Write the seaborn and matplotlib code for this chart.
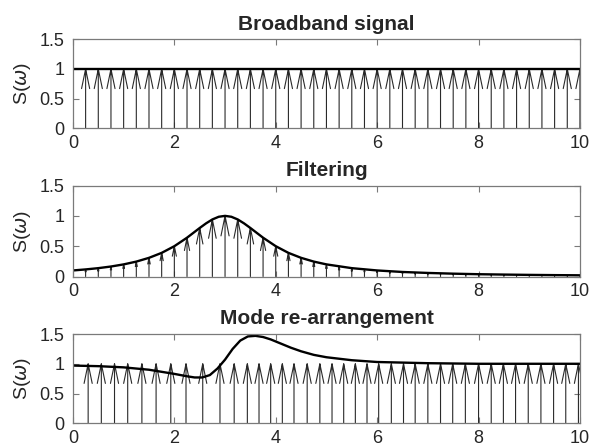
import numpy as np
import pandas as pd
import matplotlib
matplotlib.use("Agg")
import matplotlib.pyplot as plt
import seaborn as sns

# panel 1: flat broadband spectrum, arrows every 0.25
omega1 = [0.25 * k for k in range(1, 41)]
curve1_x = [0, 10]
curve1_y = [1, 1]

# panel 2: filtered spectrum, arrow heights at the same 0.25 grid
amp2 = [0.117, 0.138, 0.165, 0.20, 0.246, 0.308, 0.39, 0.50, 0.64,
        0.80, 0.941, 1.00, 0.941, 0.80, 0.64, 0.50, 0.39, 0.308, 0.246,
        0.20, 0.165, 0.138, 0.117, 0.10, 0.086, 0.075, 0.066, 0.059, 0.052,
        0.047, 0.042, 0.038, 0.035, 0.032, 0.029, 0.027, 0.025, 0.023, 0.021,
        0.020]
# filter curve (a little denser around the peak)
curve2_x = [0, 0.25, 0.5, 0.75, 1, 1.25, 1.5, 1.75, 2, 2.25, 2.5, 2.625, 2.75,
            2.875, 3, 3.125, 3.25, 3.375, 3.5, 3.75, 4, 4.25, 4.5, 4.75, 5,
            5.5, 6, 6.5, 7, 7.5, 8, 8.5, 9, 9.5, 10]
curve2_y = [0.10, 0.117, 0.138, 0.165, 0.20, 0.246, 0.308, 0.39, 0.50, 0.64,
            0.80, 0.876, 0.941, 0.985, 1.00, 0.985, 0.941, 0.876, 0.80, 0.64,
            0.50, 0.39, 0.308, 0.246, 0.20, 0.138, 0.10, 0.075, 0.059, 0.047,
            0.038, 0.032, 0.027, 0.023, 0.020]

# panel 3: re-arranged modes (all amplitude 1) and the mode curve
omega3 = [0.30, 0.56, 0.82, 1.08, 1.36, 1.64, 1.93, 2.23, 2.56, 2.90,
          3.18, 3.44, 3.67, 3.90, 4.13, 4.36, 4.62, 4.87, 5.11, 5.34,
          5.57, 5.80, 6.03, 6.28, 6.52, 6.75, 7.00, 7.25, 7.49, 7.74,
          8.00, 8.25, 8.49, 8.73, 8.98, 9.23, 9.48, 9.72, 9.97]
curve3_x = [0, 0.5, 1, 1.5, 2, 2.25, 2.4, 2.55, 2.7, 2.85, 3.0, 3.15, 3.3, 3.45,
            3.6, 3.75, 3.9, 4.1, 4.3, 4.5, 4.75, 5, 5.5, 6, 6.5, 7, 8, 9, 10]
curve3_y = [0.97, 0.96, 0.94, 0.90, 0.83, 0.79, 0.77, 0.77, 0.81, 0.92, 1.07,
            1.25, 1.39, 1.46, 1.47, 1.45, 1.41, 1.34, 1.27, 1.21, 1.15, 1.11,
            1.06, 1.03, 1.02, 1.01, 1.00, 1.00, 1.00]

titles = ["Broadband signal", "Filtering", "Mode re-arrangement"]

sns.set_style("ticks")
plt.rcParams["font.family"] = ["Liberation Sans", "DejaVu Sans"]
plt.rcParams["mathtext.fontset"] = "dejavusans"


def quiver_up(ax, xs, hs):
    # matlab-style quiver arrows from 0 up to h (open heads, size ~ length)
    px, py = [], []
    for x, h in zip(xs, hs):
        px += [x, x, np.nan, x - 0.08 * h, x, x + 0.08 * h, np.nan]
        py += [0, h, np.nan, 0.67 * h, h, 0.67 * h, np.nan]
    ax.plot(px, py, color="#2a2a2a", lw=0.8, solid_joinstyle="miter")


fig = plt.figure(figsize=(5.93, 4.46), dpi=100)
boxes = [(0.123, 0.712, 0.855, 0.200),
         (0.123, 0.380, 0.855, 0.204),
         (0.123, 0.051, 0.855, 0.200)]
axes = [fig.add_axes(b) for b in boxes]

quiver_up(axes[0], omega1, [1] * len(omega1))
sns.lineplot(x=curve1_x, y=curve1_y, ax=axes[0], color="black", lw=1.7)

quiver_up(axes[1], omega1, amp2)
sns.lineplot(x=curve2_x, y=curve2_y, ax=axes[1], color="black", lw=1.7)

quiver_up(axes[2], omega3, [1] * len(omega3))
sns.lineplot(x=curve3_x, y=curve3_y, ax=axes[2], color="black", lw=1.7)

for ax, t in zip(axes, titles):
    ax.set_xlim(0, 10)
    ax.set_ylim(0, 1.5)
    ax.set_xticks([0, 2, 4, 6, 8, 10])
    ax.set_yticks([0, 0.5, 1, 1.5])
    ax.set_yticklabels(["0", "0.5", "1", "1.5"])
    ax.tick_params(direction="in", length=4, width=0.8, top=True, right=True,
                   labelsize=13, colors="#7a7a7a", labelcolor="#262626")
    ax.tick_params(axis="y", pad=6)
    ax.tick_params(axis="x", pad=5)
    for s in ax.spines.values():
        s.set_visible(True)
        s.set_color("#7a7a7a")
        s.set_linewidth(0.9)
    ax.set_title(t, fontsize=15, fontweight="bold", color="#262626", pad=7)
    ax.set_ylabel(r"S($\omega$)", fontsize=14, color="#262626", labelpad=5)

fig.savefig("out.png", dpi=100)
